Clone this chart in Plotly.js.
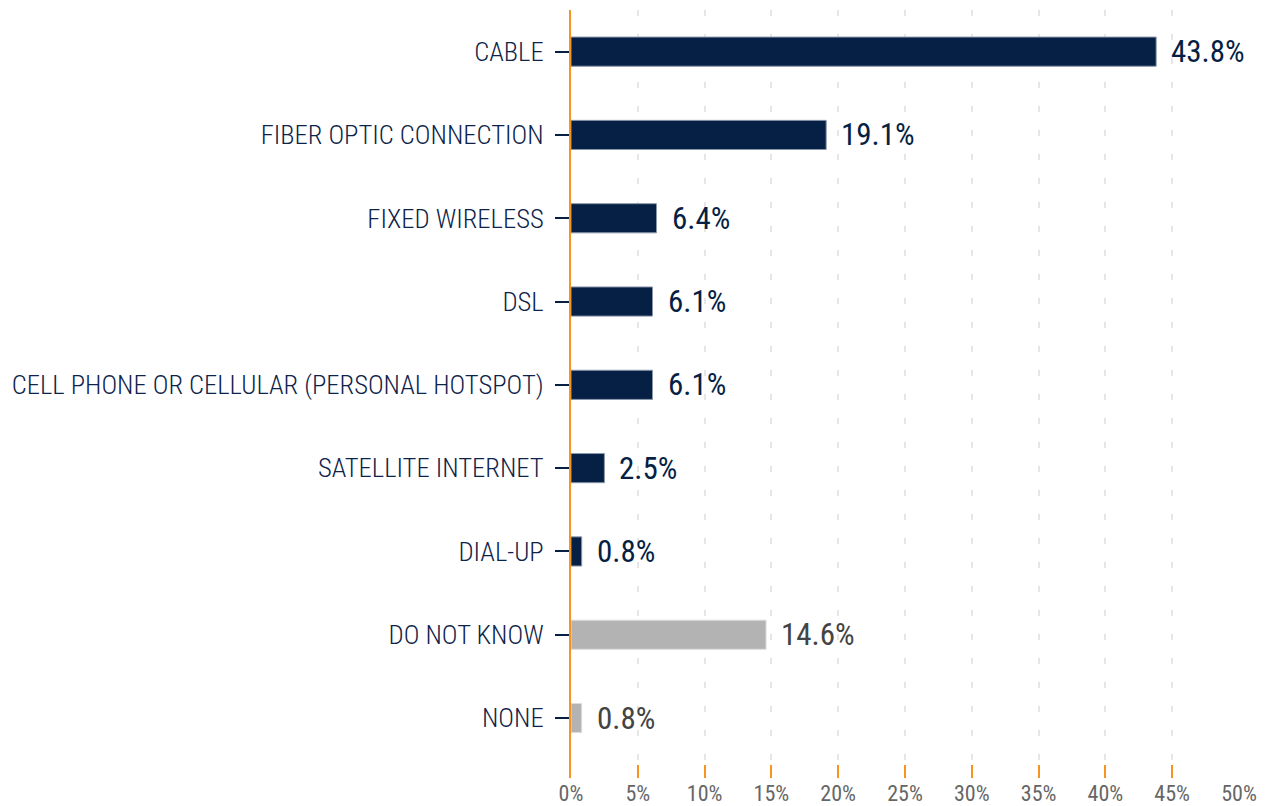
<!DOCTYPE html>
<html>
<head>
<meta charset="utf-8">
<script src="https://cdn.plot.ly/plotly-3.0.1.min.js"></script>
<style>html,body{margin:0;padding:0;background:#fff;}#chart{width:1270px;height:806px;}</style>
</head>
<body>
<div id="chart"></div>
<script>
const categories = ["CABLE","FIBER OPTIC CONNECTION","FIXED WIRELESS","DSL","CELL PHONE OR CELLULAR (PERSONAL HOTSPOT)","SATELLITE INTERNET","DIAL-UP","DO NOT KNOW","NONE"];
const values = [43.8, 19.1, 6.4, 6.1, 6.1, 2.5, 0.8, 14.6, 0.8];
const valueLabels = ["43.8%","19.1%","6.4%","6.1%","6.1%","2.5%","0.8%","14.6%","0.8%"];
const isOther = [false,false,false,false,false,false,false,true,true];
const xTickVals = [0,5,10,15,20,25,30,35,40,45,50];
const xTickText = ["0%","5%","10%","15%","20%","25%","30%","35%","40%","45%","50%"];

const NAVY = "#061f45";
const GREY = "#b3b3b3";
const FONT = "'Roboto Condensed', 'Liberation Sans Narrow', 'DejaVu Sans Condensed', sans-serif";

const trace = {
  type: "bar",
  orientation: "h",
  y: categories,
  x: values,
  width: 0.35,
  marker: {
    color: isOther.map(o => o ? GREY : NAVY),
    line: {color: isOther.map(o => o ? "#dedede" : "#8a96aa"), width: 1}
  },
  hoverinfo: "none"
};

const annotations = values.map((v, i) => ({
  x: v, y: categories[i], xref: "x", yref: "y",
  text: valueLabels[i], showarrow: false,
  xanchor: "left", yanchor: "middle", xshift: 13,
  font: {family: FONT, size: 31, color: isOther[i] ? "#444444" : NAVY}
}));

const layout = {
  width: 1270, height: 806,
  margin: {l: 571, r: 31, t: 10, b: 28},
  paper_bgcolor: "#ffffff", plot_bgcolor: "#ffffff",
  showlegend: false,
  bargap: 0,
  xaxis: {
    range: [0, 50],
    tickvals: xTickVals, ticktext: xTickText,
    ticks: "inside", ticklen: 13, tickwidth: 2, tickcolor: "#f7931e",
    showgrid: true, gridcolor: "#e6e6e6", gridwidth: 2, griddash: "6px,18px",
    zeroline: false, showline: false,
    tickfont: {family: FONT, size: 22, color: "#666666"},
    fixedrange: true
  },
  yaxis: {
    type: "category",
    range: [8.72, -0.5],
    ticks: "outside", ticklen: 14, tickwidth: 2, tickcolor: NAVY,
    showline: true, linecolor: "#f7931e", linewidth: 2,
    showgrid: false, zeroline: false,
    ticklabelstandoff: 6,
    tickfont: {family: FONT, size: 26.6, color: "#0d2349", weight: 300},
    fixedrange: true
  },
  annotations: annotations
};

Plotly.newPlot("chart", [trace], layout, {displayModeBar: false, staticPlot: true});
</script>
</body>
</html>
